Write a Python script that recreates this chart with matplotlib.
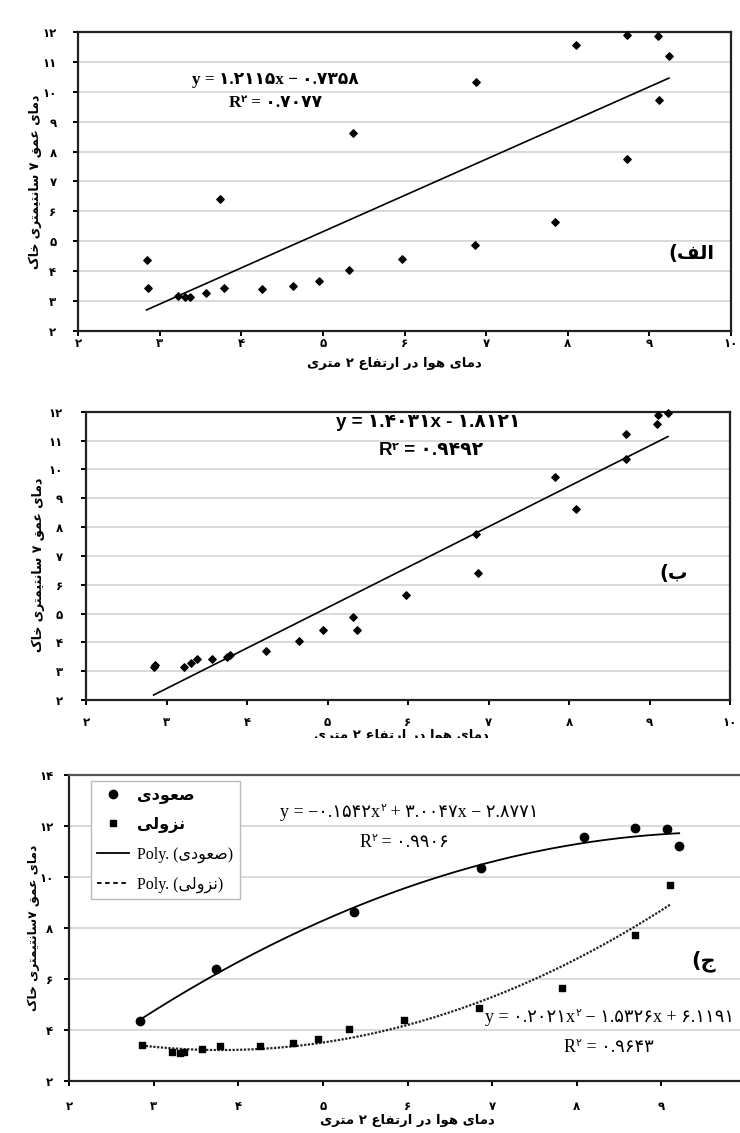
import matplotlib
matplotlib.use("Agg")
import matplotlib.pyplot as plt
import numpy as np
from matplotlib.lines import Line2D
from matplotlib.patches import Rectangle
from matplotlib.offsetbox import TextArea, HPacker, AnnotationBbox
from matplotlib.ticker import FuncFormatter

plt.rcParams['font.family'] = ['DejaVu Sans']

# panel (الف): all readings with a linear fit
p1_x = [2.84, 2.86, 3.22, 3.31, 3.37, 3.57, 3.74, 3.79, 4.25, 4.64, 4.95, 5.32,
        5.37, 5.97, 6.86, 6.88, 7.84, 8.10, 8.72, 8.72, 9.10, 9.12, 9.24]
p1_y = [4.38, 3.43, 3.18, 3.13, 3.13, 3.27, 6.40, 3.43, 3.40, 3.51, 3.68, 4.05,
        8.63, 4.42, 4.87, 10.32, 5.65, 11.55, 11.91, 7.76, 11.87, 9.72, 11.20]
p1_fit = [1.2115, -0.7358]

# panel (ب)
p2_x = [2.84, 2.86, 3.22, 3.30, 3.38, 3.57, 3.75, 3.79, 4.24, 4.65, 4.94, 5.32,
        5.37, 5.97, 6.85, 6.87, 7.83, 8.09, 8.71, 8.71, 9.09, 9.10, 9.23]
p2_y = [3.16, 3.22, 3.14, 3.30, 3.42, 3.42, 3.48, 3.55, 3.70, 4.06, 4.44, 4.88,
        4.44, 5.65, 7.76, 6.39, 9.73, 8.63, 11.24, 10.36, 11.57, 11.89, 11.95]
p2_fit = [1.4031, -1.8121]

# panel (ج): ascending / descending with quadratic fits
up_x = [2.84, 3.74, 5.37, 6.87, 8.08, 8.69, 9.07, 9.21]
up_y = [4.36, 6.38, 8.64, 10.34, 11.56, 11.93, 11.88, 11.23]
up_fit = [-0.1542, 3.0047, -2.8771]
down_x = [2.86, 3.22, 3.31, 3.36, 3.57, 3.78, 4.25, 4.64, 4.94, 5.31, 5.96, 6.84,
          7.82, 8.69, 9.10]
down_y = [3.41, 3.15, 3.11, 3.14, 3.25, 3.38, 3.37, 3.49, 3.65, 4.04, 4.40, 4.86,
          5.65, 7.74, 9.70]
down_fit = [0.2021, -1.5326, 6.1191]

x_label = "دمای هوا در ارتفاع ۲ متری"
y_label = "دمای عمق ۷ سانتیمتری خاک"
y_label3 = "دمای عمق ۷سانتیمتری خاک"
series_names = ["صعودی", "نزولی"]

# --- minimal Persian shaping (matplotlib has no bidi / joining) ---
FORMS = {  # isolated, final, initial, medial
    'ب': (0xFE8F, 0xFE90, 0xFE91, 0xFE92), 'ت': (0xFE95, 0xFE96, 0xFE97, 0xFE98),
    'ج': (0xFE9D, 0xFE9E, 0xFE9F, 0xFEA0), 'خ': (0xFEA5, 0xFEA6, 0xFEA7, 0xFEA8),
    'س': (0xFEB1, 0xFEB2, 0xFEB3, 0xFEB4), 'ص': (0xFEB9, 0xFEBA, 0xFEBB, 0xFEBC),
    'ع': (0xFEC9, 0xFECA, 0xFECB, 0xFECC), 'ف': (0xFED1, 0xFED2, 0xFED3, 0xFED4),
    'ق': (0xFED5, 0xFED6, 0xFED7, 0xFED8), 'ل': (0xFEDD, 0xFEDE, 0xFEDF, 0xFEE0),
    'م': (0xFEE1, 0xFEE2, 0xFEE3, 0xFEE4), 'ن': (0xFEE5, 0xFEE6, 0xFEE7, 0xFEE8),
    'ه': (0xFEE9, 0xFEEA, 0xFEEB, 0xFEEC), 'ک': (0xFB8E, 0xFB8F, 0xFB90, 0xFB91),
    'ی': (0xFBFC, 0xFBFD, 0xFBFE, 0xFBFF),
    'ا': (0xFE8D, 0xFE8E, 0xFE8D, 0xFE8E), 'د': (0xFEA9, 0xFEAA, 0xFEA9, 0xFEAA),
    'ر': (0xFEAD, 0xFEAE, 0xFEAD, 0xFEAE), 'ز': (0xFEAF, 0xFEB0, 0xFEAF, 0xFEB0),
    'و': (0xFEED, 0xFEEE, 0xFEED, 0xFEEE),
}
RIGHT_ONLY = set('ادرزو')


def fa(s):
    out = []
    for i, c in enumerate(s):
        if c not in FORMS:
            out.append(c)
            continue
        prev = s[i - 1] if i > 0 else ''
        nxt = s[i + 1] if i < len(s) - 1 else ''
        jp = prev in FORMS and prev not in RIGHT_ONLY
        jn = c not in RIGHT_ONLY and nxt in FORMS
        f = FORMS[c]
        out.append(chr(f[3] if jp and jn else f[1] if jp else f[2] if jn else f[0]))
    return ''.join(out)[::-1]


FA_DIGITS = str.maketrans("0123456789", "۰۱۲۳۴۵۶۷۸۹")


def fa_num(v, pos=None):
    return str(int(round(v))).translate(FA_DIGITS)


def fa_coef(v):
    return f"{abs(v):.4f}".translate(FA_DIGITS)


def equation(ax, parts, xy, size, family, weight='normal'):
    boxes = [TextArea(t, textprops=dict(size=size * (0.6 if sup else 1), family=family,
                                        weight=weight))
             for t, sup in parts]
    box = HPacker(children=boxes, align='top', pad=0, sep=0)
    ax.add_artist(AnnotationBbox(box, xy, xycoords='axes fraction', frameon=False,
                                 box_alignment=(0.5, 0.5)))


def style_axes(ax, ylim, ystep, xpad, ypad):
    ax.set_xlim(2, 10)
    ax.set_ylim(*ylim)
    ax.set_xticks(np.arange(2, 11, 1))
    ax.set_yticks(np.arange(ylim[0], ylim[1] + 0.1, ystep))
    ax.xaxis.set_major_formatter(FuncFormatter(fa_num))
    ax.yaxis.set_major_formatter(FuncFormatter(fa_num))
    ax.grid(axis='y', color='#cfcfcf', lw=1.1)
    ax.set_axisbelow(True)
    for s in ax.spines.values():
        s.set_linewidth(1.6)
        s.set_color('#222222')
    ax.tick_params(axis='x', direction='out', length=3.5, width=1.4, pad=xpad,
                   labelsize=8.5)
    ax.tick_params(axis='y', direction='out', length=3.5, width=1.4, pad=ypad,
                   labelsize=8.5)
    for t in ax.get_xticklabels() + ax.get_yticklabels():
        t.set_fontweight('bold')


W, H = 740, 1133
fig = plt.figure(figsize=(W / 100, H / 100), dpi=100)
fig.patch.set_facecolor('white')


def box(l, r, t, b):
    return [l / W, 1 - b / H, (r - l) / W, (b - t) / H]


serif = ['Liberation Serif', 'DejaVu Sans']
sans_b = ['Liberation Sans', 'DejaVu Sans']

# ---------- panel 1 ----------
ax1 = fig.add_axes(box(78, 731, 32, 331))
style_axes(ax1, (2, 12), 1, 0.5, 12)
ax1.scatter(p1_x, p1_y, marker='D', s=14, color='black', zorder=3, clip_on=False)
xs = np.array([min(p1_x), max(p1_x)])
ax1.plot(xs, np.polyval(p1_fit, xs), color='black', lw=1.2)
equation(ax1, [(f"y = {fa_coef(p1_fit[0])}x − {fa_coef(p1_fit[1])}", False)],
         (0.302, 0.839), 12.3, serif, 'bold')
equation(ax1, [("R", False), ("۲", True), (" = ۰.۷۰۷۷", False)],
         (0.302, 0.763), 12.3, serif, 'bold')
ax1.text(0.975, 0.26, "(" + fa("الف"), transform=ax1.transAxes, ha='right',
         va='center', fontsize=14, fontweight='bold')
ax1.set_xlabel(fa(x_label), fontsize=9.5, fontweight='bold', va='top')
ax1.xaxis.set_label_coords(0.484, -0.088)
ax1.set_ylabel(fa(y_label), fontsize=9, fontweight='bold', va='center')
ax1.yaxis.set_label_coords(-0.066, 0.5)

# ---------- panel 2 ----------
ax2 = fig.add_axes(box(86, 730, 411.7, 700))
style_axes(ax2, (2, 12), 1, 8, 13)
ax2.scatter(p2_x, p2_y, marker='D', s=14, color='black', zorder=3, clip_on=False)
xs = np.array([min(p2_x), max(p2_x)])
ax2.plot(xs, np.polyval(p2_fit, xs), color='black', lw=1.2)
equation(ax2, [(f"y = {fa_coef(p2_fit[0])}x - {fa_coef(p2_fit[1])}", False)],
         (0.531, 0.961), 13.5, sans_b, 'bold')
equation(ax2, [("R", False), ("۲", True), (" = ۰.۹۴۹۲", False)],
         (0.535, 0.864), 13.5, sans_b, 'bold')
ax2.text(0.935, 0.44, "(" + fa("ب"), transform=ax2.transAxes, ha='right',
         va='center', fontsize=14, fontweight='bold')
ax2.set_xlabel(fa(x_label), fontsize=9.5, fontweight='bold', va='top')
ax2.xaxis.set_label_coords(0.489, -0.1)
ax2.set_ylabel(fa(y_label), fontsize=9, fontweight='bold', va='center')
ax2.yaxis.set_label_coords(-0.0745, 0.47)

# white band hiding the lower half of panel 2's axis title, as in the source
fig.patches.append(Rectangle((0, 1 - 772 / H), 1, (772 - 738) / H,
                             transform=fig.transFigure, facecolor='white',
                             edgecolor='none', zorder=1))

# ---------- panel 3 ----------
ax3 = fig.add_axes(box(69.3, 746, 775, 1081))
ax3.set_zorder(2)
style_axes(ax3, (2, 14), 2, 10, 8)
ax3.spines['top'].set_color('#555555')
ax3.scatter(up_x, up_y, marker='o', s=36, color='black', zorder=3)
ax3.scatter(down_x, down_y, marker='s', s=24, color='black', zorder=3)
xs = np.linspace(min(up_x), max(up_x), 200)
ax3.plot(xs, np.polyval(up_fit, xs), color='black', lw=1.3)
xs = np.linspace(min(down_x), max(down_x), 200)
ax3.plot(xs, np.polyval(down_fit, xs), color='#222222', lw=1.6, ls=(0, (1, 0.7)))
equation(ax3, [(f"y = −{fa_coef(up_fit[0])}x", False), ("۲", True),
               (f" + {fa_coef(up_fit[1])}x − {fa_coef(up_fit[2])}", False)],
         (0.503, 0.879), 13, serif)
equation(ax3, [("R", False), ("۲", True), (" = ۰.۹۹۰۶", False)],
         (0.495, 0.781), 13, serif)
equation(ax3, [(f"y = {fa_coef(down_fit[0])}x", False), ("۲", True),
               (f" − {fa_coef(down_fit[1])}x + {fa_coef(down_fit[2])}", False)],
         (0.799, 0.209), 13, serif)
equation(ax3, [("R", False), ("۲", True), (" = ۰.۹۶۴۳", False)],
         (0.797, 0.108), 13, serif)
ax3.text(0.955, 0.39, "(" + fa("ج"), transform=ax3.transAxes, ha='right',
         va='center', fontsize=15, fontweight='bold')
ax3.set_xlabel(fa(x_label), fontsize=9.5, fontweight='bold', va='top')
ax3.xaxis.set_label_coords(0.5, -0.108)
ax3.set_ylabel(fa(y_label3), fontsize=8.8, fontweight='bold', va='center')
ax3.yaxis.set_label_coords(-0.053, 0.5)

handles = [
    Line2D([], [], ls='none', marker='o', ms=6, color='black'),
    Line2D([], [], ls='none', marker='s', ms=5, color='black'),
    Line2D([], [], color='black', lw=1.3),
    Line2D([], [], color='black', lw=1.3, ls=(0, (2.5, 2))),
]
labels = [fa(series_names[0]), fa(series_names[1]),
          "Poly. (" + fa(series_names[0]) + ")", "Poly. (" + fa(series_names[1]) + ")"]
leg = ax3.legend(handles, labels, loc='upper left', bbox_to_anchor=(0.032, 0.98),
                 borderaxespad=0, fancybox=False, edgecolor='#bbbbbb',
                 framealpha=1, handlelength=2.0, handletextpad=0.5,
                 labelspacing=0.85, prop=dict(family=serif, size=11.5))
leg.get_frame().set_linewidth(1.0)
for t in leg.get_texts()[:2]:
    t.set_fontweight('bold')

fig.savefig("out.png", dpi=100)
